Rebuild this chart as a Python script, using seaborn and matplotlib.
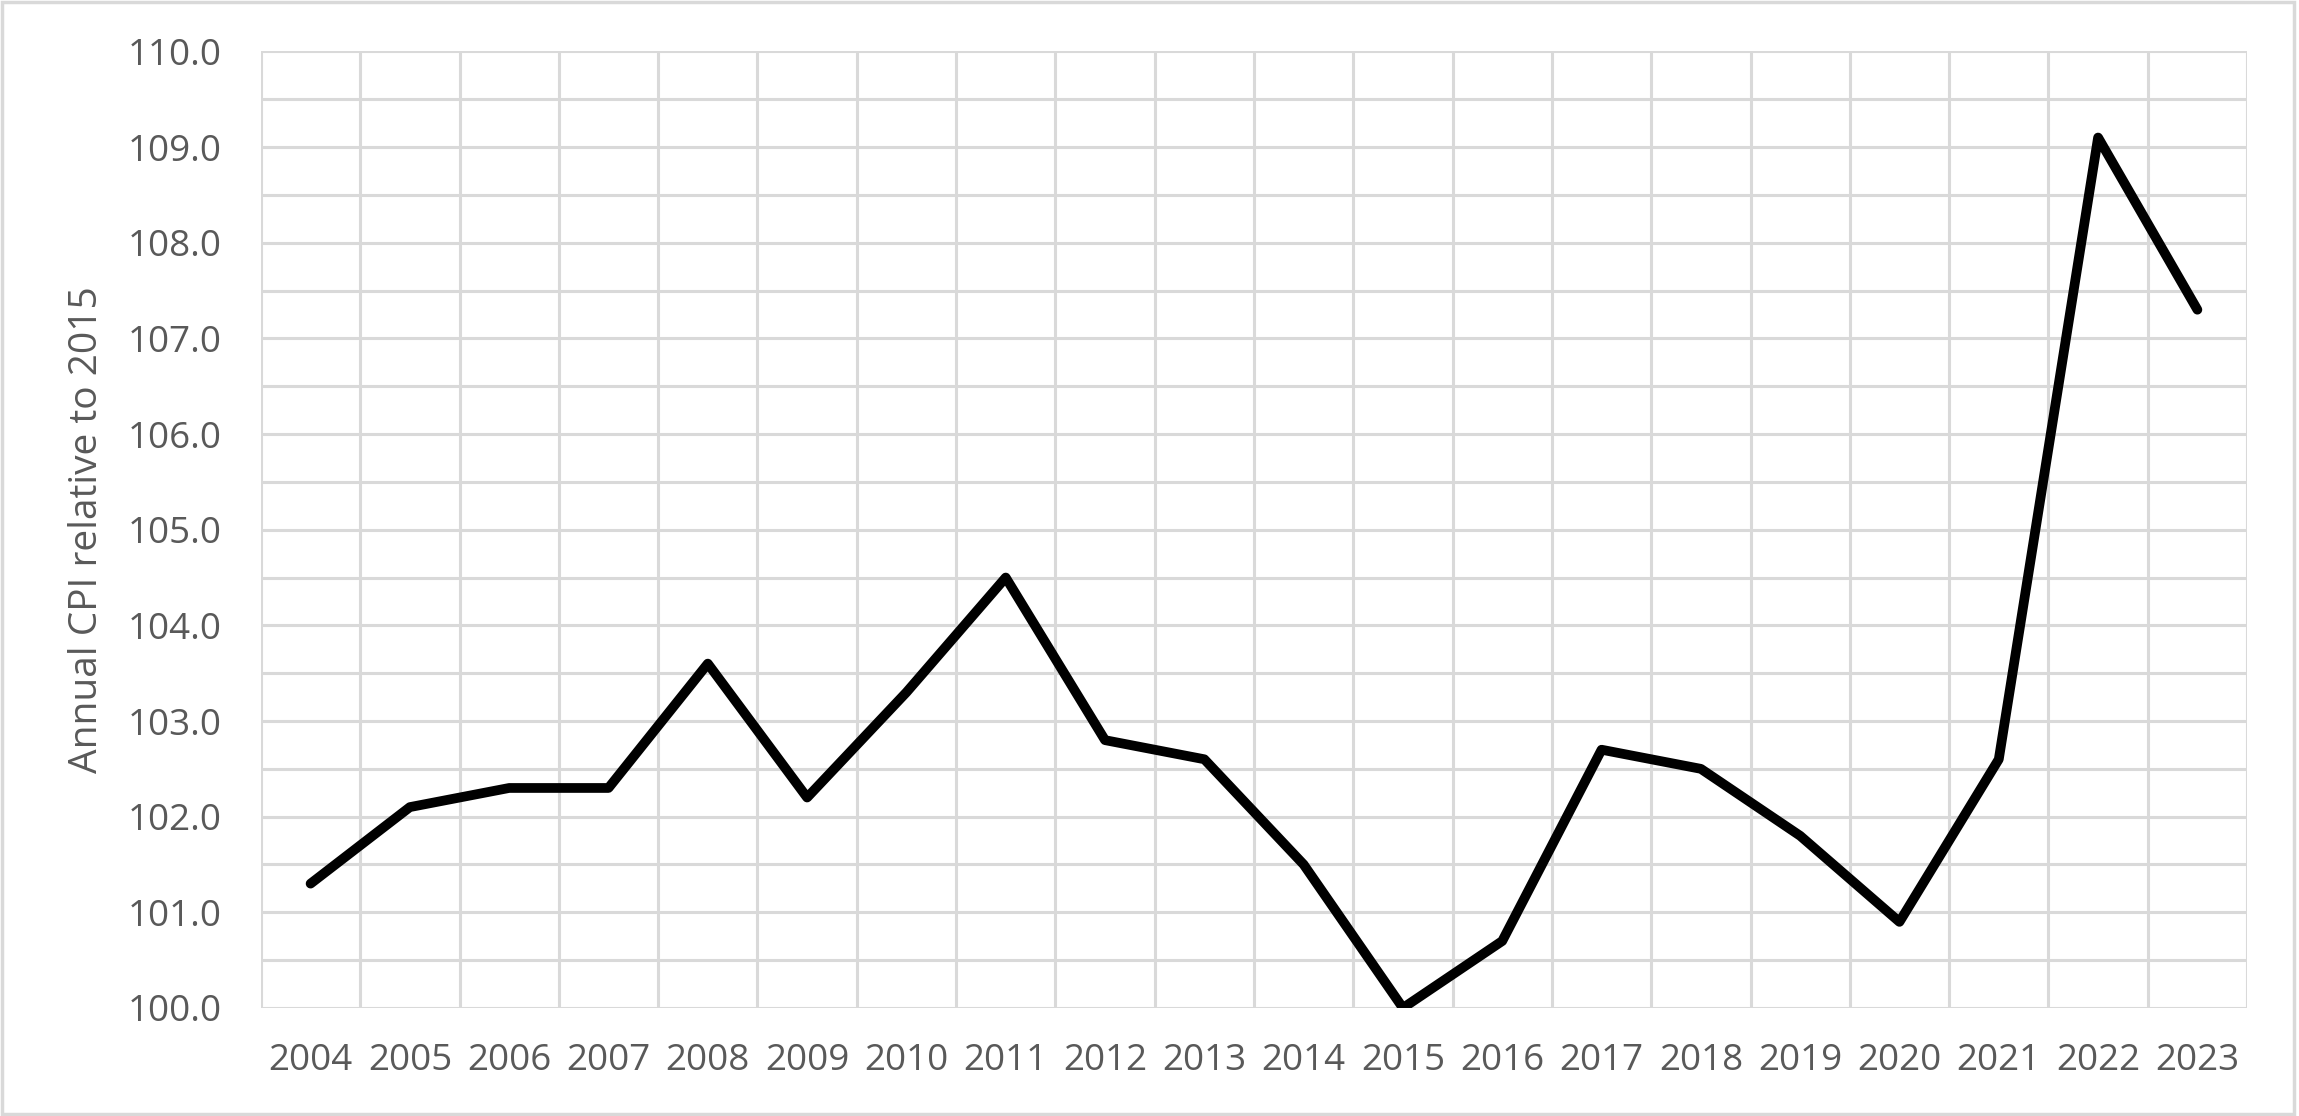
import numpy as np
import pandas as pd
import matplotlib
matplotlib.use("Agg")
import matplotlib.pyplot as plt
from matplotlib.patches import Rectangle
from matplotlib.ticker import MultipleLocator, FixedLocator
import seaborn as sns

sns.set_theme(style="white")
plt.rcParams["font.family"] = ["Open Sans", "DejaVu Sans"]

# annual CPI, 2015 = 100
years = [str(y) for y in range(2004, 2024)]
cpi = [101.3, 102.1, 102.3, 102.3, 103.6, 102.2, 103.3, 104.5, 102.8, 102.6,
       101.5, 100.0, 100.7, 102.7, 102.5, 101.8, 100.9, 102.6, 109.1, 107.3]

df = pd.DataFrame({"year": years, "cpi": cpi})

text_col = "#595959"
grid_col = "#d9d9d9"

fig = plt.figure(figsize=(22.99, 11.16), dpi=100)
ax = fig.add_axes([0.1135, 0.0968, 0.9774 - 0.1135, 0.9539 - 0.0968])

sns.lineplot(data=df, x="year", y="cpi", sort=False, color="black",
             linewidth=7, ax=ax)

ax.set_xlim(-0.5, len(years) - 0.5)
ax.set_ylim(100, 110)

ax.yaxis.set_major_locator(MultipleLocator(1))
ax.yaxis.set_minor_locator(MultipleLocator(0.5))
ax.xaxis.set_major_locator(FixedLocator(range(len(years))))
ax.xaxis.set_minor_locator(FixedLocator(np.arange(-0.5, len(years), 1.0)))
ax.set_xticklabels(years)
ax.yaxis.set_major_formatter(matplotlib.ticker.FormatStrFormatter("%.1f"))

ax.grid(which="both", axis="y", color=grid_col, linewidth=2.2)
ax.grid(which="minor", axis="x", color=grid_col, linewidth=2.2)
ax.grid(which="major", axis="x", visible=False)
ax.set_axisbelow(True)
for s in ax.spines.values():
    s.set_visible(False)

ax.tick_params(axis="both", which="both", length=0, labelsize=26.5, colors=text_col)
ax.tick_params(axis="x", pad=25)
ax.tick_params(axis="y", pad=28)

ax.set_xlabel("")
ax.set_ylabel("Annual CPI relative to 2015", fontsize=28, color=text_col)
ax.yaxis.set_label_coords(-0.078, 0.5)

# chart area border
fig.patches.append(Rectangle((0.001, 0.002), 0.997, 0.996, transform=fig.transFigure,
                             fill=False, edgecolor=grid_col, linewidth=2.5))

fig.savefig("out.png", dpi=100)
